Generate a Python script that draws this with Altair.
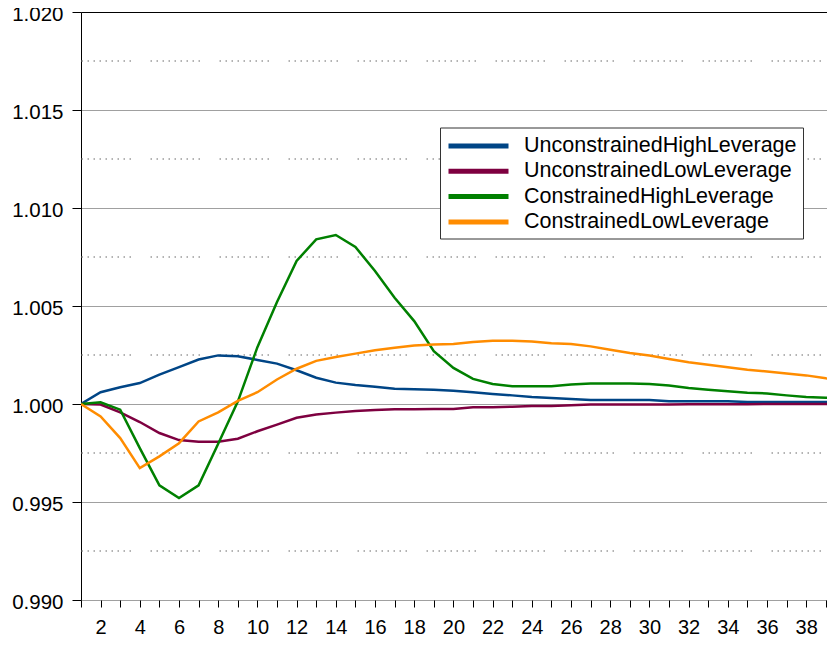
import altair as alt
import pandas as pd

steps = list(range(1, 41))

series_names = [
    "UnconstrainedHighLeverage",
    "UnconstrainedLowLeverage",
    "ConstrainedHighLeverage",
    "ConstrainedLowLeverage",
]
series_colors = ["#004586", "#7e0040", "#008000", "#ff8c00"]

unconstrained_high = [
    1.0000, 1.0006, 1.00085, 1.00107, 1.0015, 1.00188, 1.00227, 1.00248, 1.00244, 1.00225,
    1.00206, 1.00172, 1.00134, 1.00109, 1.00097, 1.00088, 1.00078, 1.00075, 1.00073, 1.00068,
    1.0006, 1.00051, 1.00044, 1.00036, 1.00031, 1.00026, 1.0002, 1.0002, 1.0002, 1.0002,
    1.00014, 1.00014, 1.00014, 1.00014, 1.0001, 1.0001, 1.0001, 1.0001, 1.0001, 1.0001,
]
unconstrained_low = [
    1.0000, 0.99997, 0.99957, 0.99908, 0.99852, 0.99816, 0.99808, 0.99808, 0.99823, 0.99861,
    0.99895, 0.9993, 0.99946, 0.99956, 0.99964, 0.99969, 0.99973, 0.99973, 0.99974, 0.99974,
    0.99983, 0.99983, 0.99986, 0.9999, 0.9999, 0.99993, 0.99997, 0.99998, 0.99998, 0.99998,
    0.99998, 0.99999, 0.99999, 0.99999, 0.99999, 1.0, 1.0, 1.0, 1.0, 1.0,
]
constrained_high = [
    1.0000, 1.00009, 0.99971, 0.99775, 0.99585, 0.9952, 0.99585, 0.99797, 1.00012, 1.0029,
    1.0052, 1.0073, 1.0084, 1.00862, 1.00801, 1.00679, 1.00542, 1.00423, 1.0027, 1.00184,
    1.00128, 1.00102, 1.0009, 1.0009, 1.0009, 1.00099, 1.00105, 1.00105, 1.00105, 1.00102,
    1.00094, 1.00082, 1.00073, 1.00065, 1.00058, 1.00054, 1.00044, 1.00036, 1.00032, 1.00028,
]
constrained_low = [
    1.0000, 0.99937, 0.99826, 0.99673, 0.99733, 0.998, 0.99911, 0.99957, 1.00016, 1.0006,
    1.00125, 1.0018, 1.0022, 1.0024, 1.00257, 1.00274, 1.00287, 1.00298, 1.00303, 1.00306,
    1.00316, 1.00323, 1.00323, 1.00319, 1.0031, 1.00306, 1.00294, 1.00277, 1.0026, 1.00247,
    1.0023, 1.00213, 1.002, 1.00187, 1.00175, 1.00166, 1.00156, 1.00146, 1.00131, 1.00125,
]

major_ticks = [0.990, 0.995, 1.000, 1.005, 1.010, 1.015, 1.020]
minor_grid = [0.9925, 0.9975, 1.0025, 1.0075, 1.0125, 1.0175]
x_ticks = list(range(1, 40))

rows = []
for name, vals in zip(series_names,
                      [unconstrained_high, unconstrained_low, constrained_high, constrained_low]):
    for k, v in zip(steps, vals):
        rows.append({"step": k, "series": name, "value": v})
df = pd.DataFrame(rows)
minor_df = pd.DataFrame({"value": minor_grid})

y_scale = alt.Scale(domain=[0.990, 1.020], nice=False, zero=False)
x_scale = alt.Scale(domain=[1, 39.06], nice=False, zero=False)

dots = [1.5, 4.5] * 8 + [1.5, 19.5]

minor = alt.Chart(minor_df).mark_rule(
    color="#9a9a9a", strokeWidth=1.3, strokeDash=dots, strokeDashOffset=63
).encode(
    y=alt.Y("value:Q", scale=y_scale)
)

lines = alt.Chart(df).mark_line(strokeWidth=2.5, clip=True).encode(
    x=alt.X(
        "step:Q",
        scale=x_scale,
        axis=alt.Axis(
            values=x_ticks,
            labelExpr="datum.value % 2 == 0 ? datum.label : ''",
            domain=False,
            grid=False,
            tickColor="#000000",
            tickSize=7,
            labelFontSize=20,
            labelFont="Liberation Sans",
            labelColor="#000000",
            labelPadding=10,
            labelFlush=False,
            labelOverlap=False,
            title=None,
        ),
    ),
    y=alt.Y(
        "value:Q",
        scale=y_scale,
        axis=alt.Axis(
            values=major_ticks,
            format=".3f",
            domainColor="#000000",
            tickColor="#000000",
            tickSize=9,
            labelFontSize=20.5,
            labelFont="Liberation Sans",
            labelColor="#000000",
            labelPadding=9,
            labelOffset=2,
            grid=True,
            gridColor=alt.condition("datum.value >= 1.0199", alt.value("#000000"), alt.value("#a0a0a0")),
            title=None,
        ),
    ),
    color=alt.Color(
        "series:N",
        scale=alt.Scale(domain=series_names, range=series_colors),
        sort=series_names,
        legend=alt.Legend(
            title=None,
            orient="none",
            legendX=359,
            legendY=115.5,
            strokeColor="#333333",
            fillColor="#ffffff",
            padding=6,
            symbolType="M-1,0H5",
            symbolSize=400,
            symbolStrokeWidth=5,
            labelFontSize=21.5,
            labelFont="Liberation Sans",
            labelColor="#000000",
            labelOffset=53,
            labelLimit=0,
            rowPadding=2.3,
        ),
    ),
)

chart = alt.layer(minor, lines).properties(
    width=746,
    height=588,
    autosize=alt.AutoSizeParams(type="none"),
    padding={"left": 73, "top": 4, "right": 0, "bottom": 38},
).configure_view(stroke="transparent").configure(background="#ffffff")

chart.save("out.html", embed_options={"renderer": "svg", "actions": False})
